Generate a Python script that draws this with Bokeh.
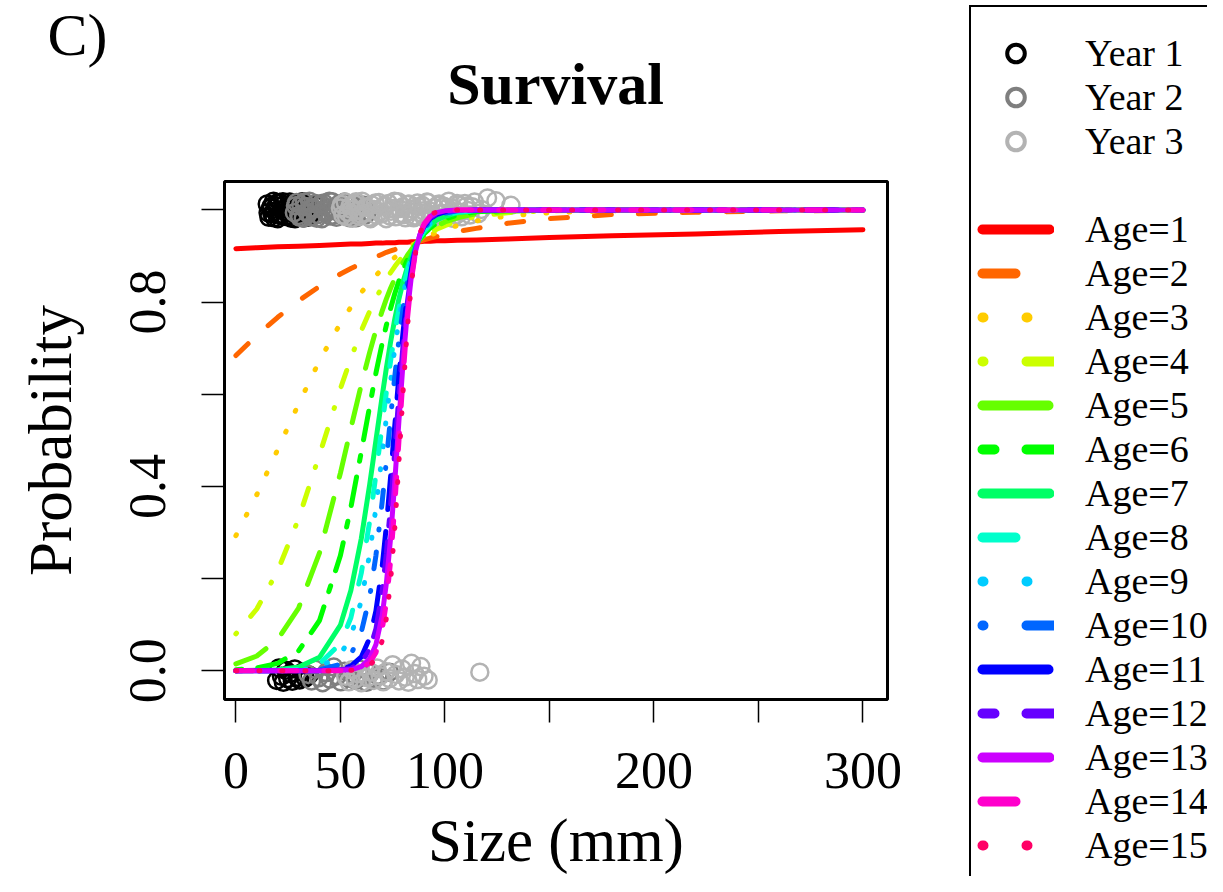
from bokeh.plotting import figure
from bokeh.layouts import row, column
from bokeh.models import Range1d, FixedTicker, Legend, LegendItem, Label
from bokeh.embed import file_html
from bokeh.resources import INLINE

FONT = "Liberation Serif"
NAN = float("nan")

# ---------------- data ----------------
year_labels = ["Year 1", "Year 2", "Year 3"]
year_colors = ["#000000", "#7F7F7F", "#B3B3B3"]

# observations: size (mm) and jittered survival (1 = survived, 0 = died)
year1_alive_size = [15.0, 15.8, 16.5, 17.2, 18.0, 18.6, 19.3, 20.0, 20.8, 21.5, 22.1, 22.9, 23.6, 24.3, 25.0,
                    25.8, 26.4, 27.2, 28.0, 28.7, 29.5, 30.2, 31.0, 31.8, 32.5, 33.4, 34.5, 35.6, 36.8, 38.0,
                    15.4, 16.9, 18.3, 19.7, 21.1, 22.5, 23.9, 25.4, 26.8, 28.3, 29.9, 31.4, 33.0, 34.9, 37.4]
year1_alive_y = [1.013, 0.984, 1.004, 0.992, 1.019, 0.997, 1.009, 0.981, 1.016, 0.989, 1.001, 1.011, 0.986, 1.006, 0.995,
                 1.017, 0.982, 1.003, 0.991, 1.014, 0.987, 1.008, 0.999, 1.018, 0.983, 1.012, 0.985, 1.005, 0.993, 1.010,
                 0.994, 1.008, 0.983, 1.015, 0.990, 1.018, 0.996, 0.987, 1.011, 0.981, 1.004, 0.992, 1.016, 0.985, 1.002]
year1_dead_size = [19.5, 20.6, 21.8, 22.7, 23.9, 24.8, 25.9, 27.0, 28.2, 29.3, 30.5, 31.8, 33.2, 35.0]
year1_dead_y = [-0.021, 0.006, -0.012, -0.025, 0.001, -0.017, -0.006, -0.023, 0.004, -0.014, -0.020, -0.003, -0.016, -0.009]

year2_alive_size = [28.0, 29.0, 30.1, 31.0, 32.2, 33.1, 34.0, 35.2, 36.1, 37.0, 38.2, 39.1, 40.0, 41.2, 42.1, 43.0, 44.2,
                    45.1, 46.0, 47.2, 48.1, 49.0, 50.2, 51.1, 52.0, 53.2, 54.1, 55.0, 56.3, 57.5, 58.8, 60.0, 61.5, 63.0,
                    28.5, 30.6, 32.7, 34.6, 36.6, 38.7, 40.6, 42.6, 44.7, 46.6, 48.6, 50.7, 52.6, 54.6, 56.9, 59.4, 62.2]
year2_alive_y = [0.994, 1.016, 0.988, 1.011, 0.982, 1.007, 0.996, 1.019, 0.985, 1.002, 1.014, 0.990, 1.009, 0.981, 1.015,
                 0.993, 1.005, 0.987, 1.018, 0.998, 0.984, 1.012, 0.991, 1.003, 1.017, 0.986, 1.008, 0.995, 1.013, 0.983,
                 1.006, 0.989, 1.010, 0.997,
                 1.009, 0.984, 1.017, 0.992, 1.005, 0.982, 1.013, 0.998, 1.019, 0.988, 1.007, 0.994, 1.015, 0.983, 1.002,
                 1.011, 0.990]
year2_dead_size = [34.5, 36.2, 38.0, 39.7, 41.5, 43.2, 45.0, 46.8, 48.5, 50.2, 52.0, 53.8, 55.5, 57.2, 59.0, 60.8, 62.5,
                   64.3, 66.0, 68.0, 70.5, 73.5]
year2_dead_y = [-0.008, -0.022, 0.003, -0.015, -0.026, -0.004, -0.018, 0.008, -0.011, -0.024, -0.001, -0.016, -0.007,
                -0.021, 0.004, -0.013, -0.025, -0.005, -0.017, -0.010, -0.022, -0.003]

year3_alive_size = [50.0, 51.2, 52.3, 53.5, 54.6, 55.8, 56.9, 58.1, 59.2, 60.4, 61.5, 62.7, 63.8, 65.0, 66.1, 67.3, 68.4,
                    69.6, 70.7, 71.9, 73.0, 74.2, 75.3, 76.5, 77.6, 78.8, 79.9, 81.1, 82.2, 83.4, 84.5, 85.7, 86.8, 88.0,
                    89.1, 90.3, 91.4, 92.6, 93.7, 94.9, 96.0, 97.2, 98.3, 99.5, 100.6, 101.8, 102.9, 104.1, 105.2, 106.5,
                    108.0, 109.5, 111.0, 113.0, 116.0, 120.4, 124.4, 131.6,
                    50.6, 52.9, 55.2, 57.5, 59.8, 62.1, 64.4, 66.7, 69.0, 71.3, 73.6, 75.9, 78.2, 80.5, 82.8, 85.1, 87.4,
                    89.7, 92.0, 94.3, 96.6, 98.9, 101.2, 103.5, 105.8, 107.2, 110.2, 112.0, 114.2, 117.5]
year3_alive_y = [1.004, 0.989, 1.017, 0.995, 1.008, 0.982, 1.013, 0.999, 0.986, 1.019, 0.993, 1.006, 0.984, 1.011, 1.001,
                 0.988, 1.016, 0.991, 1.009, 0.981, 1.014, 0.997, 1.003, 0.985, 1.018, 0.992, 1.007, 0.983, 1.012, 0.996,
                 1.002, 0.987, 1.015, 0.994, 1.010, 0.982, 1.017, 0.998, 0.990, 1.005, 0.984, 1.013, 0.993, 1.008, 0.986,
                 1.019, 0.996, 1.003, 0.988, 1.011, 0.985, 1.014, 0.999, 1.007, 0.992, 1.026, 1.020, 1.010,
                 1.012, 0.985, 1.001, 1.018, 0.991, 1.006, 0.981, 1.015, 0.996, 1.009, 0.987, 1.019, 1.003, 0.990, 1.013,
                 0.983, 1.007, 0.998, 1.016, 0.986, 1.010, 0.992, 1.004, 0.982, 1.014, 0.995, 1.008, 0.989, 1.017, 1.001]
year3_dead_size = [52.5, 54.0, 55.5, 57.0, 58.5, 60.0, 61.5, 63.0, 64.5, 66.0, 67.5, 69.0, 70.5, 72.0, 73.5, 75.0, 76.5,
                   78.0, 79.5, 81.0, 82.5, 84.0, 85.5, 87.0, 88.5, 90.0, 92.0, 116.7]
year3_dead_y = [-0.012, -0.024, 0.002, -0.018, -0.006, -0.026, 0.010, -0.015, -0.003, -0.021, 0.006, -0.011, -0.024,
                -0.002, -0.017, 0.013, -0.008, -0.022, 0.004, -0.014, -0.025, 0.016, -0.006, -0.019, 0.009, -0.012,
                -0.020, -0.003]

# fitted survival curves
size_grid = [0, 10, 20, 30, 40, 50, 55, 60, 64, 67, 70, 72, 74, 76, 78, 80, 82, 84, 86, 88, 90, 93, 96, 100,
             106, 115, 130, 150, 180, 220, 260, 300]

age_labels = ["Age=%d" % i for i in range(1, 16)]
age_colors = ["#FF0000", "#FF6600", "#FFCC00", "#CCFF00", "#66FF00", "#00FF00", "#00FF66", "#00FFCC",
              "#00CCFF", "#0066FF", "#0000FF", "#6600FF", "#CC00FF", "#FF00CC", "#FF0066"]
age_lty = ["solid", "dashed", "dotted", "dotdash", "longdash", "twodash",
           "solid", "dashed", "dotted", "dotdash", "longdash", "twodash",
           "solid", "dashed", "dotted"]

p_age1 = [0.916, 0.918, 0.920, 0.921, 0.923, 0.925, 0.926, 0.926, 0.927, 0.928, 0.928, 0.929, 0.929, 0.929, 0.930, 0.930,
          0.930, 0.931, 0.931, 0.931, 0.932, 0.932, 0.933, 0.933, 0.934, 0.935, 0.937, 0.940, 0.944, 0.948, 0.953, 0.957]
p_age2 = [0.684, 0.728, 0.767, 0.803, 0.834, 0.861, 0.873, 0.884, 0.893, 0.898, 0.904, 0.908, 0.911, 0.914, 0.918, 0.921,
          0.924, 0.927, 0.930, 0.932, 0.935, 0.939, 0.942, 0.947, 0.953, 0.960, 0.971, 0.981, 0.990, 0.995, 0.998, 0.999]
p_age3 = [0.293, 0.382, 0.480, 0.579, 0.673, 0.754, 0.789, 0.821, 0.843, 0.858, 0.872, 0.881, 0.889, 0.897, 0.904, 0.910,
          0.917, 0.923, 0.928, 0.933, 0.938, 0.945, 0.951, 0.958, 0.966, 0.976, 0.987, 0.994, 0.998, 1.000, 1.000, 1.000]
p_age4 = [0.080, 0.134, 0.217, 0.330, 0.469, 0.612, 0.678, 0.738, 0.780, 0.808, 0.834, 0.849, 0.864, 0.877, 0.889, 0.900,
          0.910, 0.919, 0.927, 0.934, 0.941, 0.950, 0.958, 0.966, 0.976, 0.986, 0.994, 0.998, 1.000, 1.000, 1.000, 1.000]
p_age5 = [0.015, 0.032, 0.068, 0.136, 0.256, 0.429, 0.526, 0.621, 0.691, 0.739, 0.781, 0.807, 0.830, 0.851, 0.870, 0.886,
          0.901, 0.914, 0.926, 0.936, 0.944, 0.956, 0.965, 0.974, 0.983, 0.992, 0.997, 0.999, 1.000, 1.000, 1.000, 1.000]
p_age6 = [0.002, 0.006, 0.016, 0.043, 0.109, 0.250, 0.354, 0.475, 0.574, 0.646, 0.711, 0.750, 0.786, 0.818, 0.846, 0.870,
          0.891, 0.909, 0.924, 0.937, 0.948, 0.961, 0.971, 0.980, 0.989, 0.996, 0.999, 1.000, 1.000, 1.000, 1.000, 1.000]
p_age7 = [0.000, 0.001, 0.002, 0.008, 0.029, 0.099, 0.174, 0.287, 0.404, 0.500, 0.596, 0.657, 0.713, 0.763, 0.807, 0.844,
          0.875, 0.901, 0.922, 0.939, 0.952, 0.967, 0.978, 0.986, 0.994, 0.998, 1.000, 1.000, 1.000, 1.000, 1.000, 1.000]
p_age8 = [0.000, 0.000, 0.001, 0.003, 0.015, 0.059, 0.115, 0.212, 0.324, 0.426, 0.534, 0.605, 0.672, 0.732, 0.785, 0.830,
          0.867, 0.897, 0.921, 0.940, 0.954, 0.970, 0.980, 0.989, 0.995, 0.999, 1.000, 1.000, 1.000, 1.000, 1.000, 1.000]
p_age9 = [0.000, 0.000, 0.000, 0.001, 0.007, 0.035, 0.074, 0.152, 0.254, 0.354, 0.470, 0.550, 0.627, 0.699, 0.761, 0.815,
          0.858, 0.893, 0.920, 0.940, 0.956, 0.972, 0.983, 0.991, 0.996, 0.999, 1.000, 1.000, 1.000, 1.000, 1.000, 1.000]
p_age10 = [0.000, 0.000, 0.000, 0.000, 0.002, 0.014, 0.035, 0.084, 0.160, 0.250, 0.367, 0.456, 0.549, 0.638, 0.718, 0.787,
           0.842, 0.885, 0.918, 0.942, 0.959, 0.976, 0.986, 0.993, 0.998, 1.000, 1.000, 1.000, 1.000, 1.000, 1.000, 1.000]
p_age11 = [0.000, 0.000, 0.000, 0.000, 0.000, 0.003, 0.010, 0.030, 0.071, 0.130, 0.227, 0.315, 0.420, 0.531, 0.640, 0.736,
           0.814, 0.873, 0.915, 0.944, 0.964, 0.981, 0.990, 0.996, 0.999, 1.000, 1.000, 1.000, 1.000, 1.000, 1.000, 1.000]
p_age12 = [0.000, 0.000, 0.000, 0.000, 0.000, 0.002, 0.005, 0.018, 0.046, 0.091, 0.173, 0.254, 0.358, 0.476, 0.598, 0.708,
           0.798, 0.866, 0.913, 0.945, 0.966, 0.983, 0.992, 0.997, 0.999, 1.000, 1.000, 1.000, 1.000, 1.000, 1.000, 1.000]
p_age13 = [0.000, 0.000, 0.000, 0.000, 0.000, 0.001, 0.002, 0.009, 0.026, 0.057, 0.120, 0.190, 0.287, 0.409, 0.542, 0.670,
           0.777, 0.857, 0.911, 0.946, 0.968, 0.986, 0.994, 0.998, 1.000, 1.000, 1.000, 1.000, 1.000, 1.000, 1.000, 1.000]
p_age14 = [0.000, 0.000, 0.000, 0.000, 0.000, 0.000, 0.001, 0.005, 0.017, 0.039, 0.089, 0.148, 0.237, 0.357, 0.498, 0.639,
           0.760, 0.849, 0.910, 0.947, 0.970, 0.987, 0.995, 0.998, 1.000, 1.000, 1.000, 1.000, 1.000, 1.000, 1.000, 1.000]
p_age15 = [0.000, 0.000, 0.000, 0.000, 0.000, 0.000, 0.001, 0.003, 0.011, 0.027, 0.065, 0.114, 0.193, 0.308, 0.453, 0.606,
           0.741, 0.842, 0.908, 0.948, 0.972, 0.989, 0.996, 0.999, 1.000, 1.000, 1.000, 1.000, 1.000, 1.000, 1.000, 1.000]
age_curves = [p_age1, p_age2, p_age3, p_age4, p_age5, p_age6, p_age7, p_age8, p_age9, p_age10,
              p_age11, p_age12, p_age13, p_age14, p_age15]

x_tick_values = [0, 50, 100, 150, 200, 250, 300]
x_tick_labels = ["0", "50", "100", "", "200", "", "300"]
y_tick_values = [0.0, 0.2, 0.4, 0.6, 0.8, 1.0]
y_tick_labels = ["0.0", "", "0.4", "", "0.8", ""]

# ---------------- styles ----------------
# in-plot dash patterns (line width 5)
plot_dash = {"solid": "solid", "dashed": "17 27", "dotted": "1 22", "dotdash": "1 22 17 22",
             "longdash": "34 22", "twodash": "6 16 29 16"}
# legend dash patterns (line width 10); offsets keep the round caps inside the glyph box
legend_dash = {"solid": ("67 200", 262), "dashed": ("33 54", 82), "dotted": ("1 43", 39),
               "dotdash": ("1 43 33 43", 115), "longdash": ("66 43", 104), "twodash": ("12 32 55 32", 126)}

HEADER_H = 140
TOTAL_H = 876
MAIN_W = 964
LEG_W = 243

# ---------------- header (panel letter + title) ----------------
header = figure(width=MAIN_W, height=HEADER_H, x_range=Range1d(0, MAIN_W), y_range=Range1d(HEADER_H, 0),
                output_backend="svg", toolbar_location=None, min_border=0,
                x_axis_location=None, y_axis_location=None)
header.frame_align = False
header.outline_line_color = None
header.xgrid.visible = False
header.ygrid.visible = False
header.add_layout(Label(x=47, y=34, text="C)", text_font=FONT, text_font_size="60px",
                        text_color="black", text_baseline="alphabetic", text_align="left"))
header.add_layout(Label(x=555, y=83, text="Survival", text_font=FONT, text_font_size="60px",
                        text_font_style="bold", text_color="black", text_baseline="alphabetic",
                        text_align="center"))

# ---------------- main plot ----------------
p = figure(width=MAIN_W, height=TOTAL_H - HEADER_H, x_range=Range1d(-5.45, 311.75),
           y_range=Range1d(-0.0624, 1.0617),
           output_backend="svg", toolbar_location=None,
           min_border_left=224, min_border_right=MAIN_W - 887, min_border_top=181 - HEADER_H,
           min_border_bottom=176)
p.frame_align = False
p.background_fill_color = "white"
p.border_fill_color = "white"
p.outline_line_color = "black"
p.outline_line_width = 3
p.outline_line_alpha = 1.0
p.xgrid.visible = False
p.ygrid.visible = False

groups = [(year1_alive_size + year1_dead_size, year1_alive_y + year1_dead_y),
          (year2_alive_size + year2_dead_size, year2_alive_y + year2_dead_y),
          (year3_alive_size + year3_dead_size, year3_alive_y + year3_dead_y)]
for (xs, ys), col in zip(groups, year_colors):
    p.scatter(xs, ys, marker="circle", size=17, fill_color=None, line_color=col, line_width=2.5)

for ys, col, lty in zip(age_curves, age_colors, age_lty):
    p.line(size_grid, ys, line_color=col, line_width=5, line_dash=plot_dash[lty],
           line_cap="round", line_join="round")

p.xaxis.ticker = FixedTicker(ticks=x_tick_values)
p.xaxis.major_label_overrides = {v: s for v, s in zip(x_tick_values, x_tick_labels)}
p.yaxis.ticker = FixedTicker(ticks=y_tick_values)
p.yaxis.major_label_overrides = {v: s for v, s in zip(y_tick_values, y_tick_labels)}
p.yaxis.major_label_orientation = "vertical"
p.xaxis.axis_label = "Size (mm)"
p.yaxis.axis_label = "Probability"
for ax in (p.xaxis[0], p.yaxis[0]):
    ax.major_label_text_font = FONT
    ax.major_label_text_font_size = "52px"
    ax.major_label_text_color = "black"
    ax.axis_label_text_font = FONT
    ax.axis_label_text_font_size = "61px"
    ax.axis_label_text_font_style = "normal"
    ax.axis_label_text_color = "black"
    ax.axis_line_color = None
    ax.major_tick_out = 23
    ax.major_tick_in = 0
    ax.major_tick_line_width = 1.5
    ax.major_tick_line_color = "black"
    ax.minor_tick_line_color = None
p.xaxis.major_label_standoff = 30
p.xaxis.axis_label_standoff = 16
p.yaxis.major_label_standoff = 36
p.yaxis.axis_label_standoff = 44

# ---------------- legend panel ----------------
lf = figure(width=LEG_W, height=TOTAL_H, x_range=Range1d(0, 1), y_range=Range1d(0, 1),
            output_backend="svg", toolbar_location=None, min_border=0,
            x_axis_location=None, y_axis_location=None)
lf.frame_align = False
lf.outline_line_color = None
lf.xgrid.visible = False
lf.ygrid.visible = False

items = []
for lab, col in zip(year_labels, year_colors):
    r = lf.scatter([NAN], [NAN], marker="circle", size=17, fill_color=None, line_color=col, line_width=4)
    items.append(LegendItem(label=lab, renderers=[r]))
gap = lf.line([NAN], [NAN], line_alpha=0)
items.append(LegendItem(label=" ", renderers=[gap]))
for lab, col, lty in zip(age_labels, age_colors, age_lty):
    dash, offset = legend_dash[lty]
    r = lf.line([NAN], [NAN], line_color=col, line_width=10, line_dash=dash, line_dash_offset=offset,
                line_cap="round")
    items.append(LegendItem(label=lab, renderers=[r]))
# the legend box runs on past the bottom edge, as in the original figure
items.append(LegendItem(label=" ", renderers=[gap]))

legend = Legend(items=items, location="top_left", margin=5, padding=6, spacing=0,
                glyph_width=77, glyph_height=44, label_standoff=31,
                label_text_font=FONT, label_text_font_size="38px", label_text_color="black",
                border_line_color="black", border_line_width=2, border_line_alpha=1.0,
                background_fill_color="white", background_fill_alpha=1.0,
                title=" ", title_text_font_size="8px", title_standoff=9)
lf.add_layout(legend)

layout = row(column(header, p), lf)
open("out.html", "w").write(file_html(layout, INLINE))
